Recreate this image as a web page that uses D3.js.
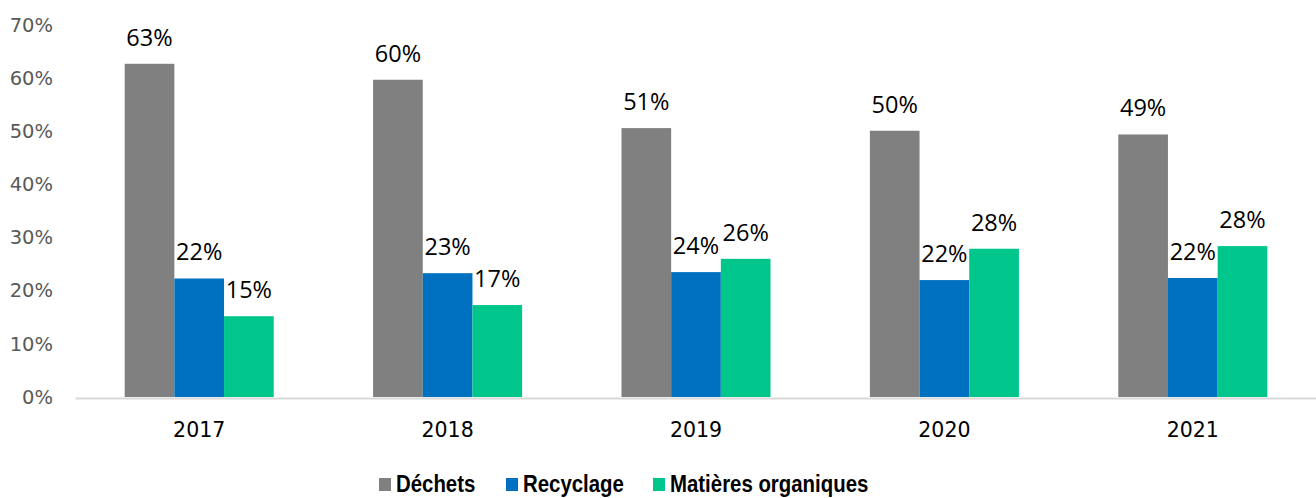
<!DOCTYPE html>
<html>
<head>
<meta charset="utf-8">
<script src="https://cdn.jsdelivr.net/npm/d3@7"></script>
<style>
  body { margin: 0; background: #fff; }
  svg { display: block; }
</style>
</head>
<body>
<div id="chart"></div>
<script>
// years along the x axis
var years = ["2017", "2018", "2019", "2020", "2021"];
// series names, in legend order
var series = ["Déchets", "Recyclage", "Matières organiques"];
// share of each destination (%), one value per year
var dechets = [62.7, 59.7, 50.6, 50.1, 49.4];
var recyclage = [22.3, 23.3, 23.5, 22.0, 22.4];
var organiques = [15.2, 17.3, 26.0, 27.9, 28.4];
var yTicks = [0, 10, 20, 30, 40, 50, 60, 70];

var COLORS = ["#808080", "#0070C0", "#00C68C"];
var values = [dechets, recyclage, organiques];

var width = 1316, height = 498;
var plotLeft = 75, plotRight = 1317, plotTop = 25, plotBottom = 397;

var svg = d3.select("#chart").append("svg")
	.attr("width", width)
	.attr("height", height);

var x = d3.scaleBand()
	.domain(years)
	.range([plotLeft, plotRight])
	.paddingInner(0.4)
	.paddingOuter(0.2);

var xs = d3.scaleBand()
	.domain(series)
	.range([0, x.bandwidth()]);

var y = d3.scaleLinear()
	.domain([0, 70])
	.range([plotBottom, plotTop]);

// y tick labels (no axis line, no gridlines)
var yAxis = svg.append("g")
	.attr("transform", "translate(" + 53 + ",0)")
	.call(d3.axisLeft(y).tickValues(yTicks).tickSize(0).tickPadding(0)
		.tickFormat(function(d) { return d + "%"; }));
yAxis.select(".domain").remove();
yAxis.selectAll("text")
	.attr("font-family", "DejaVu Sans, sans-serif")
	.attr("font-size", "19.5px")
	.attr("fill", "#595959");

// bars
var groups = svg.selectAll(".year")
	.data(years)
	.enter()
	.append("g")
	.attr("class", "year")
	.attr("transform", function(d) { return "translate(" + x(d) + ",0)"; });

series.forEach(function(s, si) {
	groups.append("rect")
		.attr("x", xs(s))
		.attr("y", function(d, i) { return y(values[si][i]); })
		.attr("width", xs.bandwidth())
		.attr("height", function(d, i) { return y(0) - y(values[si][i]); })
		.attr("fill", COLORS[si]);

	groups.append("text")
		.attr("x", xs(s) + xs.bandwidth() / 2)
		.attr("y", function(d, i) { return y(values[si][i]) - 18; })
		.attr("text-anchor", "middle")
		.attr("font-family", "Open Sans, sans-serif")
		.attr("font-size", "23.5px")
		.attr("fill", "#000")
		.text(function(d, i) { return Math.round(values[si][i]) + "%"; });
});

// x axis baseline and labels
var xAxis = svg.append("g")
	.attr("transform", "translate(0," + (plotBottom + 1) + ")")
	.call(d3.axisBottom(x).tickSize(0).tickPadding(24));
xAxis.select(".domain")
	.attr("stroke", "#d9d9d9")
	.attr("stroke-width", 2);
xAxis.selectAll("text")
	.attr("font-family", "DejaVu Sans, sans-serif")
	.attr("font-size", "20.5px")
	.attr("fill", "#000");

// legend (condensed bold look: squeeze the text horizontally)
var legendX = [379, 506, 653];
var legend = svg.selectAll(".legend")
	.data(series)
	.enter()
	.append("g")
	.attr("class", "legend")
	.attr("transform", function(d, i) { return "translate(" + legendX[i] + ",478)"; });

legend.append("rect")
	.attr("width", 12)
	.attr("height", 13)
	.attr("fill", function(d, i) { return COLORS[i]; });

legend.append("text")
	.attr("transform", "translate(17,14) scale(0.85,1)")
	.attr("font-family", "Liberation Sans, Arial, sans-serif")
	.attr("font-weight", "bold")
	.attr("font-size", "24px")
	.attr("fill", "#000")
	.text(function(d) { return d; });
</script>
</body>
</html>
